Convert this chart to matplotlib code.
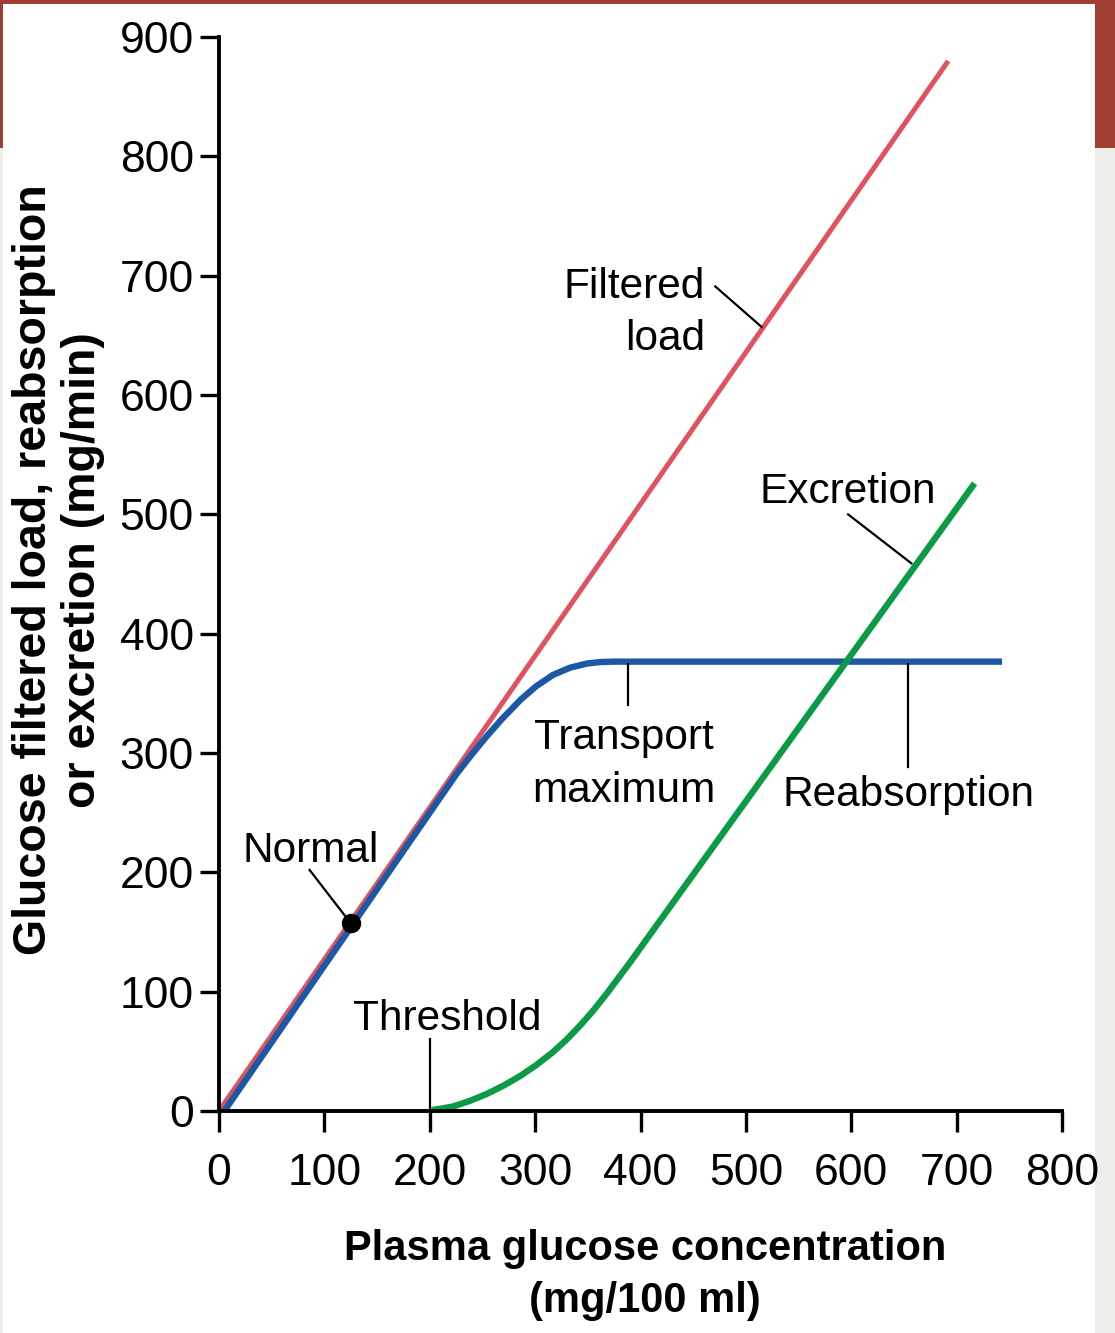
import matplotlib
matplotlib.use("Agg")
import matplotlib.pyplot as plt
from matplotlib.patches import Rectangle

# values (x: mg/100 ml, y: mg/min)
filtered_x = [0, 692]
filtered_y = [0, 880]

reabs_x = [5, 150, 225, 240, 254, 269, 286, 301, 317, 333, 349, 362, 374, 743]
reabs_y = [0, 186, 282, 299, 314, 329, 344.5, 356, 365.5, 371.5, 375, 376.3, 376.6, 376.6]

excr_x = [202, 222, 238, 254, 270, 286, 301, 317, 330, 342.5, 355, 368, 390, 717]
excr_y = [0.8, 3.8, 8.5, 14.3, 21.3, 29.5, 38.5, 49.5, 60, 71.5, 84, 98.5, 124.5, 526]

normal_x = 125
normal_y = 158

xticks = [0, 100, 200, 300, 400, 500, 600, 700, 800]
yticks = [0, 100, 200, 300, 400, 500, 600, 700, 800, 900]

plt.rcParams['font.family'] = ['Liberation Sans', 'DejaVu Sans']

red = '#e0525e'
blue = '#1d58a5'
green = '#0b9b47'

fig = plt.figure(figsize=(11.15, 13.33), dpi=100)
fig.patch.set_facecolor('#efedea')
# backdrop: red band on top, white panel for the chart
fig.patches.append(Rectangle((0, 0.889), 1, 0.111, transform=fig.transFigure,
                             facecolor='#a23d31', edgecolor='none', zorder=-3))
fig.patches.append(Rectangle((0.0027, 0), 0.9794, 0.997, transform=fig.transFigure,
                             facecolor='white', edgecolor='none', zorder=-2))

ax = fig.add_axes([0.1964, 0.1665, 0.7561, 0.8057])
ax.set_facecolor('none')

ax.plot(filtered_x, filtered_y, color=red, lw=3.6, solid_capstyle='butt', clip_on=False, zorder=3)
ax.plot(reabs_x, reabs_y, color=blue, lw=4.6, solid_capstyle='butt', solid_joinstyle='round',
        clip_on=False, zorder=4)
ax.plot(excr_x, excr_y, color=green, lw=4.6, solid_capstyle='butt', solid_joinstyle='round',
        clip_on=False, zorder=4)
ax.plot([normal_x], [normal_y], 'o', color='black', ms=13, zorder=6, clip_on=False)

ax.set_xlim(0, 800)
ax.set_ylim(0, 900)
ax.set_xticks(xticks)
ax.set_yticks(yticks)

for s in ['top', 'right']:
    ax.spines[s].set_visible(False)
for s in ['left', 'bottom']:
    ax.spines[s].set_linewidth(2.8)
    ax.spines[s].set_zorder(5)

ax.tick_params(axis='x', direction='out', length=15, width=2.4, pad=15.5, labelsize=32)
ax.tick_params(axis='y', direction='out', length=14, width=2.4, pad=4, labelsize=32)

# leader lines
kw = dict(color='black', lw=1.6, zorder=5)
ax.plot([471, 515], [691, 657], **kw)
ax.plot([597, 657], [500, 459], **kw)
ax.plot([388, 388], [375, 340], **kw)
ax.plot([654, 654], [375, 288], **kw)
ax.plot([200, 200], [60, 2], **kw)
ax.plot([86, 121], [202, 162], **kw)

# annotation labels (baseline positions in data units)
fs = 30.5
ax.text(461, 681.5, 'Filtered', ha='right', va='baseline', fontsize=fs)
ax.text(461, 638, 'load', ha='right', va='baseline', fontsize=fs)
ax.text(513, 509.6, 'Excretion', ha='left', va='baseline', fontsize=fs)
ax.text(384, 303.4, 'Transport', ha='center', va='baseline', fontsize=fs)
ax.text(384, 259, 'maximum', ha='center', va='baseline', fontsize=fs)
ax.text(535, 255.6, 'Reabsorption', ha='left', va='baseline', fontsize=fs)
ax.text(22, 208.7, 'Normal', ha='left', va='baseline', fontsize=fs)
ax.text(127, 67.9, 'Threshold', ha='left', va='baseline', fontsize=fs)

fig.text(0.5785, 0.0548, 'Plasma glucose concentration', ha='center', va='baseline',
         fontsize=30, fontweight='bold')
fig.text(0.5785, 0.0158, '(mg/100 ml)', ha='center', va='baseline',
         fontsize=30, fontweight='bold')
fig.text(34 / 1115, 0.5724, 'Glucose filtered load, reabsorption', ha='center', va='center',
         rotation=90, fontsize=33.5, fontweight='bold')
fig.text(83 / 1115, 0.5724, 'or excretion (mg/min)', ha='center', va='center',
         rotation=90, fontsize=33.5, fontweight='bold')

fig.savefig('out.png', dpi=100)
